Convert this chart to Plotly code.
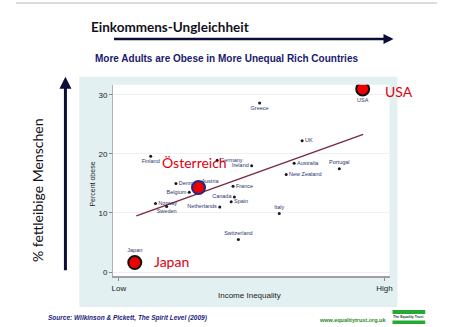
import plotly.graph_objects as go

# ---- data ----
countries = ["Japan", "Finland", "Greece", "Germany", "Ireland", "UK", "Australia",
             "Portugal", "New Zealand", "Denmark", "Austria", "France", "Belgium",
             "Canada", "Spain", "Norway", "Sweden", "Netherlands", "Italy",
             "Switzerland", "USA"]
inequality = [0.06, 0.12, 0.53, 0.37, 0.50, 0.69, 0.66,
              0.83, 0.63, 0.215, 0.30, 0.43, 0.265,
              0.435, 0.423, 0.138, 0.18, 0.38, 0.604,
              0.45, 0.918]
obesity = [1.6, 19.6, 28.6, 18.9, 18.0, 22.2, 18.4,
           17.5, 16.5, 15.0, 14.3, 14.5, 13.5,
           12.7, 11.9, 11.6, 11.1, 11.0, 9.9,
           5.5, 31.0]
label_pos = ["top center", "bottom center", "bottom center", "middle right", "middle left",
             "middle right", "middle right", "top center", "middle right", "middle right",
             "top right", "middle right", "middle left", "middle left", "middle right",
             "middle right", "bottom center", "middle left", "top center", "top center",
             "bottom center"]
highlight = ["Japan", "Austria", "USA"]
highlight_names = {"Japan": "Japan", "Austria": "Österreich", "USA": "USA"}
fit_x = [0.066, 0.92]
fit_y = [9.5, 23.3]
y_ticks = [0, 10, 20, 30]
x_ticks = [0, 1]
x_tick_labels = ["Low", "High"]

W, H = 450, 327
def px(x):
    return x / W
def py(y):
    return 1 - y / H

label_font = dict(family="Liberation Sans, Arial", size=5.5, color="#2a3670")

fig = go.Figure()

fig.add_trace(go.Scatter(
    x=fit_x, y=fit_y, mode="lines",
    line=dict(color="#7a2b3c", width=1.5), hoverinfo="skip"))

# small dots (all countries); labels for all but Japan/USA (those sit outside big circles)
big_label = ["Japan", "USA"]
fig.add_trace(go.Scatter(
    x=inequality, y=obesity,
    mode="markers+text",
    text=["" if c in big_label else c for c in countries],
    textposition=label_pos,
    textfont=label_font,
    marker=dict(size=3, color="#1a1a1a")))

hi = [countries.index(c) for c in highlight]
fig.add_trace(go.Scatter(
    x=[inequality[i] for i in hi], y=[obesity[i] for i in hi],
    mode="markers+text",
    text=[countries[i] if countries[i] in big_label else "" for i in hi],
    textposition=[label_pos[i] for i in hi],
    textfont=label_font,
    marker=dict(size=13, color="#ee0000",
                line=dict(color=["#111111", "#1a2a8a", "#111111"], width=2))))

fig.update_layout(
    width=W, height=H, margin=dict(l=0, r=0, t=0, b=0),
    paper_bgcolor="white", plot_bgcolor="white", showlegend=False,
    xaxis=dict(domain=[px(113), px(392)], range=[-0.022, 1.019],
               tickvals=x_ticks, ticktext=x_tick_labels, ticks="outside",
               ticklen=3, tickcolor="#888", showgrid=False, zeroline=False,
               showline=True, linecolor="#a0a0a0", linewidth=2,
               tickfont=dict(family="Liberation Sans, Arial", size=8, color="#222")),
    yaxis=dict(domain=[py(277), py(85)], range=[-0.7, 31.7],
               tickvals=y_ticks, ticks="outside", ticklen=3, tickcolor="#888",
               showgrid=True, gridcolor="#f0f0f0", zeroline=False,
               showline=True, linecolor="#b0b0b0", linewidth=1,
               tickfont=dict(family="Liberation Sans, Arial", size=8, color="#222")),
)

# light blue panel, white plot area and decorations
fig.add_shape(type="rect", xref="paper", yref="paper",
              x0=px(79), x1=px(400), y0=py(308), y1=py(77),
              fillcolor="#e3f0f1", line=dict(width=0), layer="below")
fig.add_shape(type="rect", xref="x domain", yref="y domain",
              x0=0, x1=1, y0=0, y1=1,
              fillcolor="white", line=dict(width=0), layer="below")
fig.add_shape(type="line", xref="paper", yref="paper",
              x0=px(15), x1=px(440), y0=py(3), y1=py(3),
              line=dict(color="#dcdcdc", width=2))
# logo bars
fig.add_shape(type="rect", xref="paper", yref="paper",
              x0=px(395), x1=px(428), y0=py(315), y1=py(311),
              fillcolor="#22aa33", line=dict(width=0))
fig.add_shape(type="rect", xref="paper", yref="paper",
              x0=px(395), x1=px(428), y0=py(325), y1=py(321.5),
              fillcolor="#22aa33", line=dict(width=0))

ann = []
# arrows
ann.append(dict(xref="paper", yref="paper", x=px(396), y=py(39), ax=-281, ay=0,
                showarrow=True, arrowhead=2, arrowsize=0.8, arrowwidth=2.5,
                arrowcolor="#0d0d3a", text=""))
ann.append(dict(xref="paper", yref="paper", x=px(65), y=py(77), ax=0, ay=195,
                showarrow=True, arrowhead=2, arrowsize=0.8, arrowwidth=3,
                arrowcolor="#0d0d3a", text=""))
# texts
ann.append(dict(xref="paper", yref="paper", x=px(89), y=py(27), xanchor="left",
                yanchor="middle", showarrow=False, text="<b>Einkommens-Ungleichheit</b>",
                font=dict(family="Lato", size=13.5, color="#111122")))
ann.append(dict(xref="paper", yref="paper", x=px(228), y=py(59), xanchor="center",
                yanchor="middle", showarrow=False,
                text="<b>More Adults are Obese in More Unequal Rich Countries</b>",
                font=dict(family="Liberation Sans, Arial", size=10, color="#1a1a6e")))
ann.append(dict(xref="paper", yref="paper", x=px(37), y=py(191), xanchor="center",
                yanchor="middle", showarrow=False, textangle=-90,
                text="% fettleibige Menschen",
                font=dict(family="Lato", size=14, color="#111122")))
ann.append(dict(xref="paper", yref="paper", x=px(92), y=py(185), xanchor="center",
                yanchor="middle", showarrow=False, textangle=-90,
                text="Percent obese",
                font=dict(family="Liberation Sans, Arial", size=7, color="#222")))
ann.append(dict(xref="paper", yref="paper", x=px(251), y=py(296), xanchor="center",
                yanchor="middle", showarrow=False, text="Income Inequality",
                font=dict(family="Liberation Sans, Arial", size=8, color="#222")))
ann.append(dict(xref="paper", yref="paper", x=px(45), y=py(319), xanchor="left",
                yanchor="middle", showarrow=False,
                text="<b><i>Source: Wilkinson &amp; Pickett, The Spirit Level (2009)</i></b>",
                font=dict(family="Liberation Sans, Arial", size=6.5, color="#1a1a80")))
ann.append(dict(xref="paper", yref="paper", x=px(390), y=py(321), xanchor="right",
                yanchor="middle", showarrow=False,
                text="<b>www.equalitytrust.org.uk</b>",
                font=dict(family="Liberation Sans, Arial", size=5.5, color="#1f8a2a")))
ann.append(dict(xref="paper", yref="paper", x=px(411.5), y=py(318.2), xanchor="center",
                yanchor="middle", showarrow=False,
                text="<b>The Equality Trust</b>",
                font=dict(family="Liberation Sans, Arial", size=3.5, color="#224422")))
# red highlight labels
red_pos = {"Japan": (172, 262), "Austria": (195, 163), "USA": (402, 92)}
for c in highlight:
    x0, y0 = red_pos[c]
    ann.append(dict(xref="paper", yref="paper", x=px(x0), y=py(y0), xanchor="center",
                    yanchor="middle", showarrow=False, text=highlight_names[c],
                    font=dict(family="Lato", size=14, color="#e00010")))

fig.update_layout(annotations=ann)
fig.write_html("out.html")
